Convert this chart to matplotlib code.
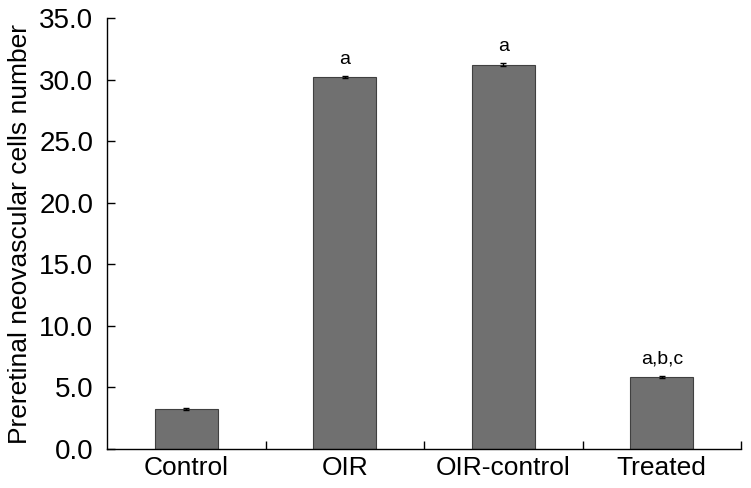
import matplotlib
matplotlib.use("Agg")
import matplotlib.pyplot as plt
import numpy as np

groups = ["Control", "OIR", "OIR-control", "Treated"]
means = [3.25, 30.2, 31.2, 5.85]
errs = [0.1, 0.1, 0.12, 0.1]
sig = ["", "a", "a", "a,b,c"]
yticks = [0, 5, 10, 15, 20, 25, 30, 35]

plt.rcParams["font.family"] = ["Liberation Sans", "DejaVu Sans"]

fig = plt.figure(figsize=(7.51, 4.88), dpi=100)
ax = fig.add_axes([0.1425, 0.08, 0.8442, 0.883])
x = np.arange(len(groups))
ax.bar(x, means, width=0.4, color="#707070", edgecolor="#404040", linewidth=0.8, zorder=2)
ax.errorbar(x, means, yerr=errs, fmt="none", ecolor="black", elinewidth=1.0, capsize=2.5, capthick=1.0, zorder=3)
for xi, m, e, s in zip(x, means, errs, sig):
    if s:
        ax.annotate(s, xy=(xi, m + e), xytext=(0, 6), textcoords="offset points",
                    ha="center", va="bottom", fontsize=14)

ax.set_xlim(-0.5, 3.5)
ax.set_ylim(0, 35)
ax.set_yticks(yticks)
ax.set_yticklabels([f"{v:.1f}" for v in yticks], fontsize=20)
ax.set_xticks(x)
ax.set_xticklabels(groups, fontsize=19)
ax.tick_params(axis="x", length=0, pad=5)
ax.set_xticks([0.5, 1.5, 2.5, 3.5], minor=True)
ax.tick_params(axis="x", which="minor", direction="in", length=6, width=1.0)
ax.tick_params(axis="y", direction="in", length=6, width=1.0, pad=10)
ax.spines["top"].set_visible(False)
ax.spines["right"].set_visible(False)
for s in ("left", "bottom"):
    ax.spines[s].set_linewidth(1.0)
ax.set_ylabel("Preretinal neovascular cells number", fontsize=19, labelpad=5)

fig.savefig("out.png", dpi=100)
